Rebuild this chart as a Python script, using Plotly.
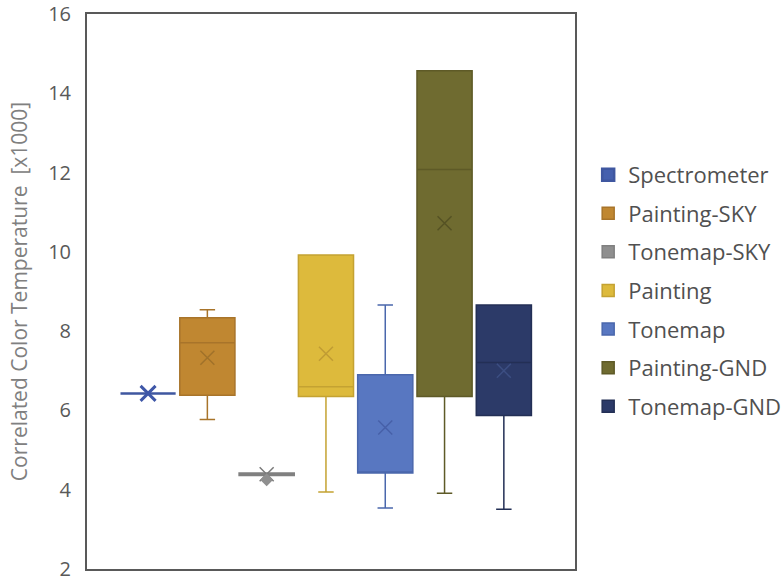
import plotly.graph_objects as go

names = ["Spectrometer", "Painting-SKY", "Tonemap-SKY", "Painting", "Tonemap", "Painting-GND", "Tonemap-GND"]
q1 = [6.43, 6.38, 4.36, 6.35, 4.42, 6.35, 5.87]
median = [6.43, 7.71, 4.39, 6.60, 4.42, 12.08, 7.21]
q3 = [6.43, 8.34, 4.42, 9.92, 6.90, 14.57, 8.66]
lower = [6.43, 5.77, 4.36, 3.94, 3.54, 3.91, 3.51]
upper = [6.43, 8.54, 4.42, 9.92, 8.66, 14.57, 8.66]
means = [6.43, 7.33, 4.39, 7.43, 5.57, 10.72, 7.00]
outlier_series = ["Tonemap-SKY"]
outlier_values = [4.25]

y_ticks = [2, 4, 6, 8, 10, 12, 14, 16]
y_title = "Correlated Color Temperature  [x1000]"

fills = ["#4560AE", "#C08731", "#8F8F8F", "#DDBA3C", "#5877C1", "#6F6B30", "#2C3A68"]
lines = ["#3F57A0", "#A8742A", "#808080", "#C4A232", "#4A67AC", "#5E5A27", "#232F55"]
xcols = ["#3F57A8", "#A0722A", "#7A7A7A", "#C09C34", "#4760A8", "#555224", "#3C4E82"]

fig = go.Figure()
for i, n in enumerate(names):
    lw = 2.5 if n == "Spectrometer" else 1.5
    fig.add_trace(go.Box(
        name=n, x=[i], q1=[q1[i]], median=[median[i]], q3=[q3[i]],
        lowerfence=[lower[i]], upperfence=[upper[i]],
        width=0.93, whiskerwidth=0.28,
        fillcolor=fills[i], line=dict(color=lines[i], width=lw),
        boxpoints=False, legendgroup=n, showlegend=True,
    ))

for i, n in enumerate(names):
    big = n == "Spectrometer"
    fig.add_trace(go.Scatter(
        x=[i], y=[means[i]], mode="markers", showlegend=False, hoverinfo="skip",
        marker=dict(symbol="x-thin-open", size=15 if big else 14, color=xcols[i],
                    line=dict(color=xcols[i], width=3 if big else 1.5)),
    ))

for n, v in zip(outlier_series, outlier_values):
    i = names.index(n)
    fig.add_trace(go.Scatter(
        x=[i], y=[v], mode="markers", showlegend=False, hoverinfo="skip",
        marker=dict(symbol="diamond", size=10, color=fills[i]),
    ))

fig.update_layout(
    width=784, height=582,
    margin=dict(l=87, r=209, t=14, b=13, autoexpand=False),
    paper_bgcolor="white", plot_bgcolor="white",
    font=dict(family="Open Sans", color="#595959"),
    boxmode="overlay",
    showlegend=True,
    legend=dict(x=1.027, y=0.748, xanchor="left", yanchor="top",
                font=dict(size=22, color="#505050"), tracegroupgap=7,
                itemwidth=30),
    xaxis=dict(range=[-1.03, 7.2], showticklabels=False, ticks="", automargin=False,
               showgrid=False, zeroline=False, showline=True, mirror=True,
               linecolor="#595959", linewidth=2),
    yaxis=dict(range=[2, 16], tickvals=y_ticks, showgrid=False, zeroline=False,
               automargin=False, ticklabeloverflow="allow",
               showline=True, mirror=True, linecolor="#595959", linewidth=2,
               tickfont=dict(size=20, color="#595959"), ticklabelstandoff=10,
               title=dict(text=y_title, font=dict(size=21, color="#808080"), standoff=15)),
)

fig.write_html("out.html", config={"displayModeBar": False},
               post_script="document.body.style.margin='0';")
